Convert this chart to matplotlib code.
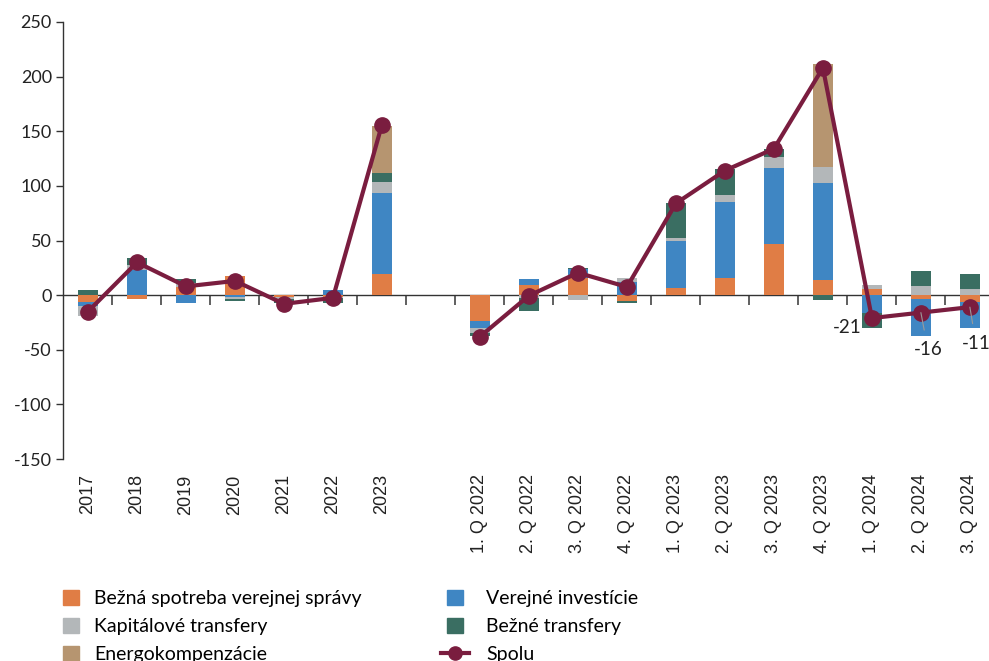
import numpy as np
import matplotlib
matplotlib.use("Agg")
import matplotlib.pyplot as plt
from matplotlib.patches import Patch
from matplotlib.lines import Line2D
from matplotlib.legend_handler import HandlerLine2D

plt.rcParams['font.family'] = ['Lato', 'DejaVu Sans']

# categories (empty string = gap between annual and quarterly block)
categories = ['2017', '2018', '2019', '2020', '2021', '2022', '2023', '',
              '1. Q 2022', '2. Q 2022', '3. Q 2022', '4. Q 2022',
              '1. Q 2023', '2. Q 2023', '3. Q 2023', '4. Q 2023',
              '1. Q 2024', '2. Q 2024', '3. Q 2024']

spotreba = [-6, -3.5, 7.5, 17.5, -2, -2, 19, np.nan,
            -24, 9, 16, -5, 6.5, 16, 47, 14, 6, -3.5, -6]
investicie = [-3.5, 23, -7, -1.5, 0, 5, 74.5, np.nan,
              -6.5, 5.5, 7.5, 12, 43, 69, 69, 89, -16, -34, -24]
kap_transfery = [-10, 4.5, 4, -2, -1.5, -1, 10, np.nan,
                 -4, -3, -4.5, 3.5, 3, 7, 10.5, 14.5, 3, 8, 5.5]
bezne_transfery = [4.5, 6.5, 3, -1.5, -4, -4.5, 8, np.nan,
                   -3, -11.5, 1.5, -2.5, 31.5, 23, 7.5, -4.5, -14.5, 14.5, 13.5]
energo = [0, 0, 0, 0, 0, 0, 43.5, np.nan,
          0, 0, 0, 0, 0, 0, 0, 94, 0, 0, 0]
spolu = [-15, 30, 8, 13, -8, -2.5, 156, np.nan,
         -38, -0.5, 20.5, 7.5, 84, 114, 134, 208, -21, -16, -11]

series = [
    ('Bežná spotreba verejnej správy', spotreba, '#E07D45'),
    ('Verejné investície', investicie, '#3F86C3'),
    ('Kapitálové transfery', kap_transfery, '#B3B7B9'),
    ('Bežné transfery', bezne_transfery, '#3A6E62'),
    ('Energokompenzácie', energo, '#B69570'),
]
line_color = '#7A1D3F'


class WideLineHandler(HandlerLine2D):
    # legend line for "Spolu" is wider than the square patches
    def create_artists(self, legend, orig_handle, xdescent, ydescent, width, height, fontsize, trans):
        extra = width * 0.35
        return super().create_artists(legend, orig_handle, xdescent + extra, ydescent,
                                      width + 2 * extra, height, fontsize, trans)


W, H = 989, 661
fig = plt.figure(figsize=(W / 100, H / 100), dpi=100)
ax = fig.add_axes([63 / W, 1 - 459 / H, (W - 63) / W, (459 - 22) / H])

x = np.arange(len(categories))
valid = ~np.isnan(np.array(spolu, dtype=float))
xv = x[valid]
pos_base = np.zeros(len(xv))
neg_base = np.zeros(len(xv))
for name, vals, col in series:
    v = np.array(vals, dtype=float)[valid]
    pos = np.where(v > 0, v, 0)
    neg = np.where(v < 0, v, 0)
    m = pos > 0
    ax.bar(xv[m], pos[m], 0.41, bottom=pos_base[m], color=col, linewidth=0, zorder=2)
    m = neg < 0
    ax.bar(xv[m], neg[m], 0.41, bottom=neg_base[m], color=col, linewidth=0, zorder=2)
    pos_base += pos
    neg_base += neg

ax.plot(x, spolu, color=line_color, lw=3, marker='o', markersize=11, zorder=4)

# value labels for the last three quarters
labels_cfg = [(16, (-25, -9), False), (17, (7, -37), True), (18, (6, -36), True)]
for i, off, leader in labels_cfg:
    ax.annotate(f'{spolu[i]:.0f}', xy=(x[i], spolu[i]), xytext=off, textcoords='offset pixels',
                ha='center', va='center', fontsize=13.5, color='#222222', zorder=5,
                annotation_clip=False,
                arrowprops=dict(arrowstyle='-', color='#9a9a9a', lw=0.8, shrinkA=6, shrinkB=0) if leader else None)

ax.set_xlim(-0.51, 18.39)
ax.set_ylim(-150, 250)
ax.set_yticks(np.arange(-150, 251, 50))
ax.set_yticklabels([str(v) for v in range(-150, 251, 50)], fontsize=13, color='#222222')
ax.tick_params(axis='y', direction='out', length=5, width=1, color='#333333', pad=3)

ax.set_xticks(x)
ax.set_xticklabels(categories, rotation=90, fontsize=13, family='Liberation Sans', color='#222222')
ax.tick_params(axis='x', length=0, pad=11)

for s in ['top', 'right', 'bottom']:
    ax.spines[s].set_visible(False)
ax.spines['left'].set_color('#333333')
ax.spines['left'].set_linewidth(1)

# zero line with category separators
zero_frac = 150 / 400
sec = ax.secondary_xaxis(zero_frac)
sec.set_xticks(np.arange(0.5, 18, 1.0))
sec.set_xticklabels([])
sec.tick_params(direction='out', length=7, width=1.2, color='#444444')
sec.spines['bottom'].set_color('#333333')
sec.spines['bottom'].set_linewidth(1)

# legend: two columns drawn as two legends
leg_kw = dict(loc='upper left', frameon=False, fontsize=14, handlelength=0.82, handleheight=0.82,
              labelspacing=0.55, borderaxespad=0, borderpad=0)
col1 = [series[0], series[2], series[4]]
fig.legend([Patch(color=c) for _, _, c in col1], [n for n, _, _ in col1],
           bbox_to_anchor=(63 / W, 1 - 590 / H), handletextpad=0.8, **leg_kw)

spolu_handle = Line2D([], [], color=line_color, lw=3, marker='o', markersize=9.5)
col2 = [series[1], series[3]]
fig.legend([Patch(color=c) for _, _, c in col2] + [spolu_handle],
           [n for n, _, _ in col2] + ['Spolu'],
           bbox_to_anchor=(447 / W, 1 - 590 / H), handletextpad=1.2,
           handler_map={spolu_handle: WideLineHandler()}, **leg_kw)

fig.savefig('out.png', dpi=100, facecolor='white')
